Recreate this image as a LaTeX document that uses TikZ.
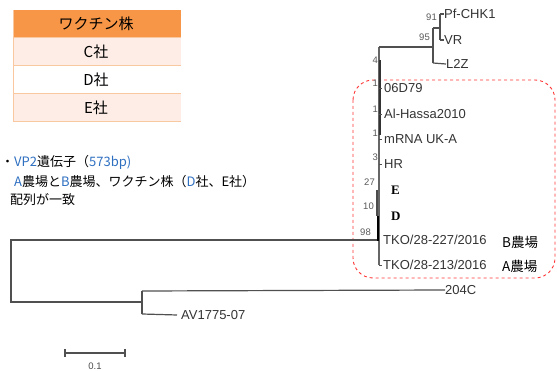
\documentclass[tikz,border=0pt]{standalone}
\usepackage{fontspec}
\setmainfont{Liberation Sans}
\newfontfamily\jpfont{Noto Sans CJK JP}
\newfontfamily\serifb{Liberation Serif}
\definecolor{hdr}{HTML}{F79646}
\definecolor{rowp}{HTML}{FDEDE6}
\definecolor{sep}{HTML}{FAC8A0}
\definecolor{blu}{HTML}{2E6FC0}
\definecolor{brgray}{HTML}{505050}
\begin{document}
\begin{tikzpicture}[x=1pt,y=-1pt,
  br/.style={draw=brgray,line width=1.2pt},
  leaf/.style={anchor=west,inner sep=0pt,font=\fontsize{13}{14}\selectfont,text=black!80},
  boot/.style={anchor=east,inner sep=0pt,font=\fontsize{9.5}{10}\selectfont,text=black!65},
  tcell/.style={inner sep=0pt,font=\jpfont\fontsize{15}{16}\selectfont},
  jp/.style={anchor=west,inner sep=0pt,font=\jpfont\fontsize{13}{14}\selectfont}]
\useasboundingbox (0,0) rectangle (557,371);
% ---- table
\fill[hdr] (13,10) rectangle (181,38);
\fill[rowp] (13,38) rectangle (181,66);
\fill[white] (13,66) rectangle (181,94);
\fill[rowp] (13,94) rectangle (181,122);
\draw[sep,line width=1pt] (13,38) -- (181,38) (13,66) -- (181,66) (13,94) -- (181,94) (13,122) -- (181,122);
\draw[sep,line width=1pt] (13,10) -- (13,122);
\node[tcell] (th) at (96,24) {ワクチン株};
\node[tcell] (tc) at (96,52) {C社};
\node[tcell] (td) at (96,80) {D社};
\node[tcell] (te) at (96,108) {E社};
% ---- description
\node[jp] (l1) at (1,162) {・\textcolor{blu}{VP2}遺伝子（\textcolor{blu}{573bp)}};
\node[jp] (l2) at (14,182) {\textcolor{blu}{A}農場と\textcolor{blu}{B}農場、ワクチン株（\textcolor{blu}{D}社、E社）};
\node[jp] (l3) at (10,200) {配列が一致};
% ---- dashed box
\draw[red!80,dashed,line width=0.9pt,rounded corners=20pt] (353,80) rectangle (555,278);
% ---- tree
\coordinate (root) at (11,240);
\coordinate (rlow) at (11,302);
\coordinate (n98) at (378,240);
\coordinate (nout) at (142,302);
\draw[br] (n98) -- (11,240) -- (11,302) -- (nout);
\draw[br] (142,291) -- (142,314);
\node[leaf] (c204) at (445,290) {204C};
\node[leaf] (av) at (181,315) {AV1775-07};
\draw[br] (142,291) -- (c204.west);
\draw[br] (142,314) -- ([xshift=-4pt]av.west);
% main clade vertical
\draw[draw=black!60,line width=1.2pt] (379,47) -- (379,265);
\draw[draw=black,line width=1.8pt] (378,216) -- (378,241);
\draw[draw=black!70,line width=1.8pt] (377,190) -- (377,216);
\draw[draw=black!80,line width=1.6pt] (380,60) -- (380,135);
% top group
\draw[br] (379,47) -- (433,47);
\draw[br] (433,28) -- (433,63);
\draw[br] (433,28) -- (440,28);
\draw[br] (440,14) -- (440,40);
\node[leaf] (pf) at (444,14) {Pf-CHK1};
\node[leaf] (vr) at (444,40) {VR};
\node[leaf] (l2z) at (446,64) {L2Z};
\draw[br] (433,63) -- (l2z.west);
\draw[br] (440,14) -- (pf.west);
\draw[br] (440,40) -- (vr.west);
% clade leaves
\node[leaf] (a1) at (384,88) {06D79};
\node[leaf] (a2) at (384,114) {Al-Hassa2010};
\node[leaf] (a3) at (384,139) {mRNA UK-A};
\node[leaf] (a4) at (384,164) {HR};
\node[anchor=west,inner sep=0pt,font=\serifb\bfseries\fontsize{13}{14}\selectfont] (a5) at (391,190) {E};
\node[anchor=west,inner sep=0pt,font=\serifb\bfseries\fontsize{13}{14}\selectfont] (a6) at (391,216) {D};
\node[leaf] (a7) at (383,240) {TKO/28-227/2016};
\node[leaf] (a8) at (383,265) {TKO/28-213/2016};
\foreach \y in {88,114,139,164,265} \draw[br,line width=0.8pt] (379,\y) -- (382,\y);
\node[jp,font=\jpfont\fontsize{13.5}{14}\selectfont] (fb) at (502,242) {B農場};
\node[jp,font=\jpfont\fontsize{13.5}{14}\selectfont] (fa) at (502,266) {A農場};
% bootstrap values
\node[boot] (b91) at (437,17) {91};
\node[boot] (b95) at (430,37) {95};
\node[boot] (b4) at (378,60) {4};
\node[boot] (b1a) at (378,83) {1};
\node[boot] (b1b) at (378,109) {1};
\node[boot] (b1c) at (378,133) {1};
\node[boot] (b3) at (378,157) {3};
\node[boot] (b27) at (375,182) {27};
\node[boot] (b10) at (374,206) {10};
\node[boot] (b98) at (371,232) {98};
% scale bar
\coordinate (s1) at (65,353);
\coordinate (s2) at (125,353);
\draw[br,line width=1.1pt] (s1) -- (s2);
\draw[br,line width=1.1pt] (65,349) -- (65,357) (125,349) -- (125,357);
\node[inner sep=0pt,font=\fontsize{9.5}{10}\selectfont,text=black!70] (sc) at (95,366) {0.1};
\end{tikzpicture}
\end{document}
